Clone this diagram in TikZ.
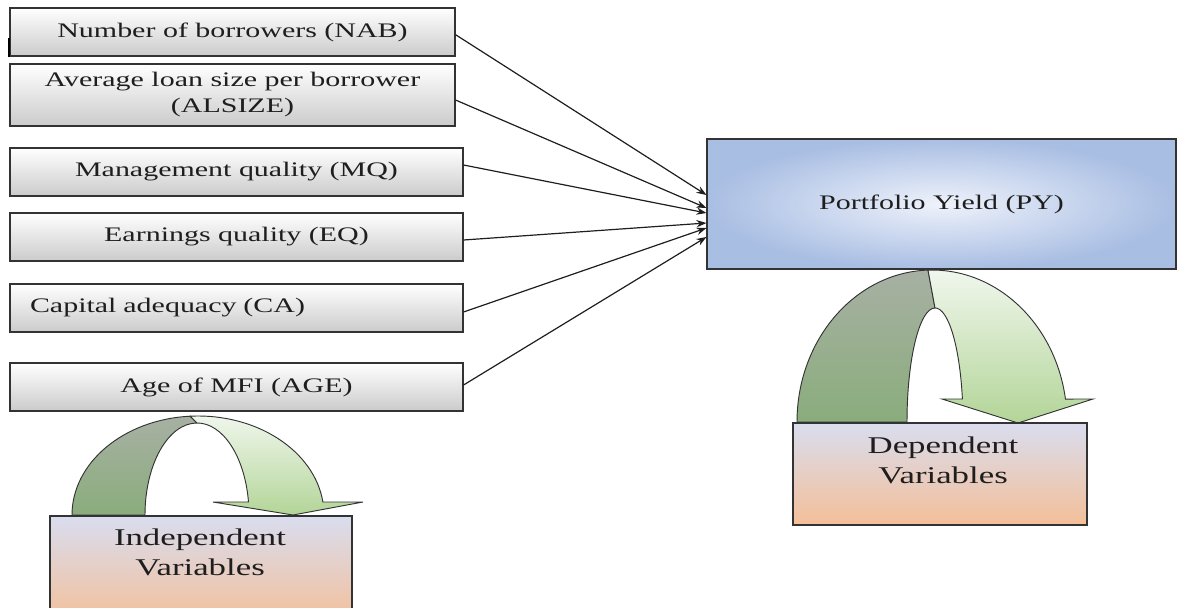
\documentclass[tikz,border=0pt]{standalone}
\usepackage{fontspec}
\setmainfont{Liberation Serif}[FakeStretch=1.45]
\usepackage{tikz}
\usetikzlibrary{arrows.meta, calc}
\definecolor{boxline}{HTML}{333333}
\definecolor{boxgray}{HTML}{CBCBCB}
\definecolor{textdark}{HTML}{1E1E1E}
\definecolor{pyinner}{HTML}{EEF2FB}
\definecolor{pyouter}{HTML}{A9BEE3}
\definecolor{cattop}{HTML}{D9DDEF}
\definecolor{catbottom}{HTML}{F4BF99}
\definecolor{backtop}{HTML}{A7B0A3}
\definecolor{backbottom}{HTML}{8AAD7C}
\definecolor{fronttop}{HTML}{F1F7EE}
\definecolor{frontbottom}{HTML}{B3D598}

\begin{document}
\begin{tikzpicture}[x=0.75pt, y=-0.75pt, >={Stealth[length=7.5pt,width=5.5pt]},
    varbox/.style={rectangle, draw=boxline, line width=0.8pt, top color=white,
      bottom color=boxgray, text=textdark, font=\fontsize{15.5}{19.5}\selectfont,
      align=center, minimum height=36pt, inner sep=2pt},
    pybox/.style={rectangle, draw=boxline, line width=0.8pt, inner color=pyinner,
      outer color=pyouter, text=textdark, font=\fontsize{15.5}{19.5}\selectfont,
      minimum width=351.75pt, minimum height=97.5pt},
    catbox/.style={rectangle, draw=boxline, line width=0.8pt, top color=cattop,
      bottom color=catbottom, inner sep=0pt},
    cattext/.style={text=textdark, align=center, font=\fontsize{18}{22.5}\selectfont},
    conn/.style={->, line width=0.9pt, draw=textdark},
    backleg/.style={draw=boxline, line width=0.7pt, top color=backtop, bottom color=backbottom},
    frontleg/.style={draw=boxline, line width=0.7pt, top color=fronttop, bottom color=frontbottom},
  ]
    \useasboundingbox (0,0) rectangle (1177,607);
    \clip (0,0) rectangle (1177,607);

    \node[varbox, minimum width=333.75pt] (nab) at (232.5,32) {Number of borrowers (NAB)};
    \node[varbox, minimum width=333.75pt, minimum height=46.5pt] (alsize) at (232.5,95) {Average loan size per borrower\\(ALSIZE)};
    \node[varbox, minimum width=339.75pt] (mq) at (236.5,172) {Management quality (MQ)};
    \node[varbox, minimum width=339.75pt] (eq) at (236.5,237) {Earnings quality (EQ)};
    \node[varbox, minimum width=339.75pt, text width=309.75pt, inner xsep=15pt, align=left] (ca) at (236.5,308) {Capital adequacy (CA)};
    \node[varbox, minimum width=339.75pt] (age) at (236.5,387) {Age of MFI (AGE)};
    \draw[line width=1.6pt] (9,38) -- (9,57);

    \node[pybox] (py) at (941.5,204) {Portfolio Yield (PY)};

    \draw[conn] ([yshift=-2pt]nab.east) -- ([yshift=6.75pt]py.west);
    \draw[conn] ([yshift=-3.75pt]alsize.east) -- ([yshift=-3pt]py.west);
    \draw[conn] ([yshift=5.25pt]mq.east) -- ([yshift=-6.75pt]py.west);
    \draw[conn] ([yshift=-2.25pt]eq.east) -- ([yshift=-14.25pt]py.west);
    \draw[conn] ([yshift=-3pt]ca.east) -- ([yshift=-18pt]py.west);
    \draw[conn] ([yshift=1.5pt]age.east) -- ([yshift=-24.75pt]py.west);

    \draw[backleg] (72,515) arc[start angle=180, end angle=93.6, x radius=94.5pt, y radius=74.25pt]
      -- (197,423) arc[start angle=90, end angle=180, x radius=39pt, y radius=69pt] -- cycle;
    \draw[frontleg] (190.1,416.2) arc[start angle=93.6, end angle=7.55, x radius=94.5pt, y radius=74.25pt]
      -- (363,502) -- (293,515) -- (213,502) -- (248.5,502)
      arc[start angle=8.1, end angle=90, x radius=39pt, y radius=69pt] -- cycle;

    \draw[backleg] (797,422) arc[start angle=180, end angle=91.7, x radius=101.25pt, y radius=114pt]
      -- (935,308) arc[start angle=90, end angle=180, x radius=21pt, y radius=85.5pt] -- cycle;
    \draw[frontleg] (928,270.1) arc[start angle=91.7, end angle=8.7, x radius=101.25pt, y radius=114pt]
      -- (1093,399) -- (1018,423) -- (942,399) -- (962.4,399)
      arc[start angle=11.6, end angle=90, x radius=21pt, y radius=85.5pt] -- cycle;

    \node[catbox, minimum width=226.5pt, minimum height=81.75pt] (indep) at (201,570.5) {};
    \node[cattext] (indeptext) at (200,552) {Independent\\Variables};
    \node[catbox, minimum width=220.5pt, minimum height=76.5pt] (dep) at (940,474) {};
    \node[cattext] (deptext) at (943,460) {Dependent\\Variables};
  \end{tikzpicture}
\end{document}
